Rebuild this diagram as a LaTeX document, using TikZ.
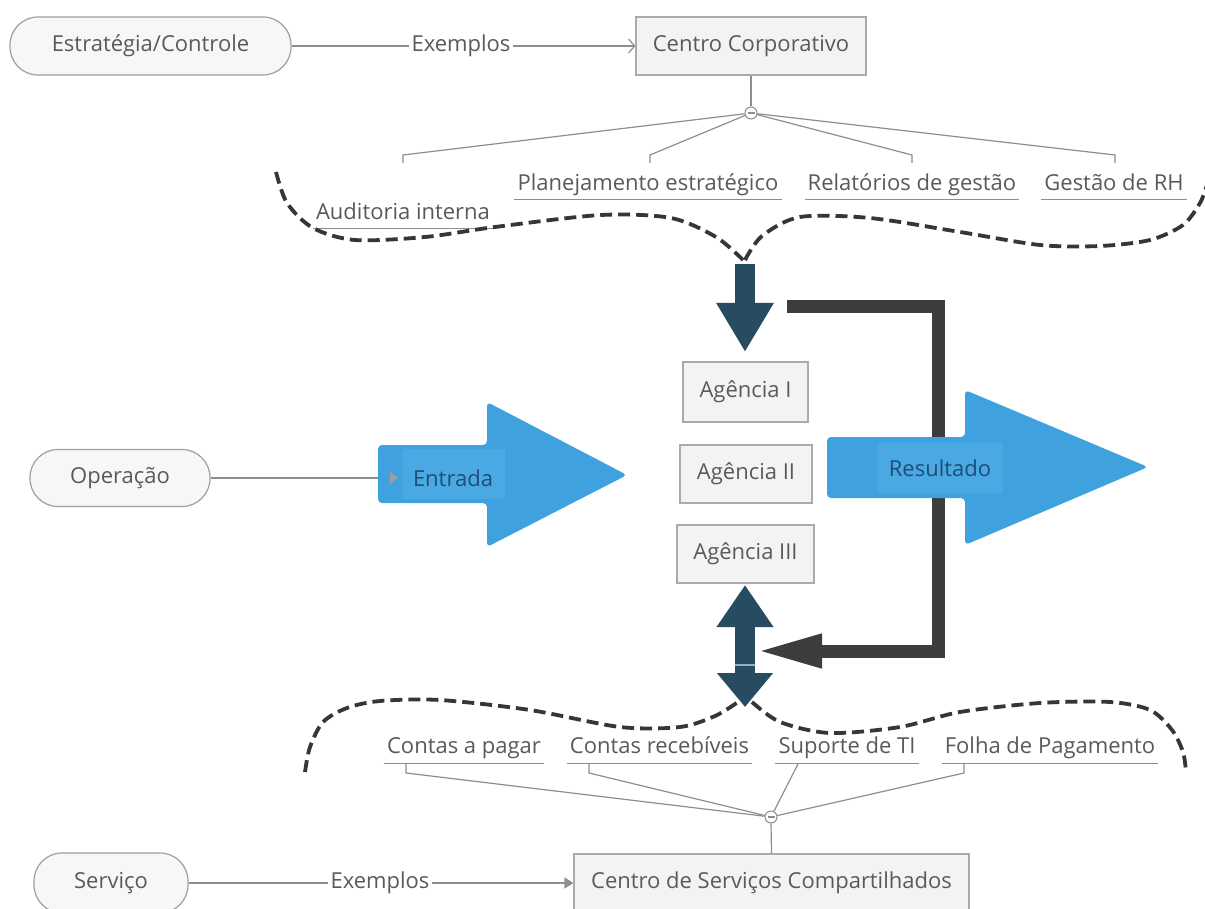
\documentclass[tikz,border=0pt]{standalone}
\usepackage{fontspec}
\setmainfont{Open Sans}
\usetikzlibrary{arrows.meta}
\definecolor{txt}{HTML}{5A5A5A}
\definecolor{ln}{HTML}{8E8E8E}
\definecolor{pillfill}{HTML}{F7F7F7}
\definecolor{pillline}{HTML}{9E9E9E}
\definecolor{boxfill}{HTML}{F3F3F3}
\definecolor{boxline}{HTML}{ABABAB}
\definecolor{bigblue}{HTML}{3FA2DE}
\definecolor{lblblue}{HTML}{4AA9E2}
\definecolor{lbltext}{HTML}{1E4E78}
\definecolor{darkblue}{HTML}{274C61}
\definecolor{darkgray}{HTML}{3D3D3D}
\definecolor{dashcol}{HTML}{363636}
\definecolor{seam}{HTML}{8FB0C2}
\begin{document}
\begin{tikzpicture}[x=1pt,y=-1pt,
  every node/.style={font=\fontsize{22}{26}\selectfont, text=txt},
  pill/.style={draw=pillline, fill=pillfill, line width=1.2pt, rounded corners=28pt, minimum height=58pt, inner sep=0pt},
  box/.style={draw=boxline, fill=boxfill, line width=1.2pt, minimum height=58pt, inner sep=0pt},
  lbl/.style={inner sep=0pt, anchor=base},
  exlbl/.style={inner sep=2pt},
  conn/.style={draw=ln, line width=1.2pt},
  uline/.style={draw=ln, line width=1pt},
  dashcurve/.style={draw=dashcol, line width=3.8pt, dash pattern=on 12pt off 6pt},
  knob/.style={circle, draw=ln, fill=white, minimum size=12pt, inner sep=0pt, line width=1pt},
  bluelbl/.style={text=lbltext, inner sep=0pt},
  fb/.style={draw=darkgray, line width=13pt, line join=miter, -{Triangle[length=66pt,width=31pt]}},
  fatarrow/.style={draw=darkblue, line width=20pt}
]
\fill[white] (0,0) rectangle (1205,909);
\useasboundingbox (0,0) rectangle (1205,909);

% ---------- top row
\node[pill, minimum width=281pt] (strat) at (150.5,46) {Estratégia/Controle};
\node[exlbl] (ex1) at (461,46) {Exemplos};
\node[box, minimum width=230pt] (corp) at (751,46) {Centro Corporativo};
\draw[conn] (strat.east) -- (ex1.west);
\draw[conn, -{Straight Barb[length=6pt,width=14pt]}] (ex1.east) -- (corp.west);

\node[knob] (c1) at (751,113) {};
\draw[conn] (corp.south) -- (c1.north);
\draw[ln, line width=1.5pt] ([xshift=-3.5pt]c1.center) -- ([xshift=3.5pt]c1.center);

\coordinate (s1) at (403,155); \coordinate (s1b) at (403,163);
\coordinate (s2) at (650,155); \coordinate (s2b) at (650,163);
\coordinate (s3) at (912,155); \coordinate (s3b) at (912,163);
\coordinate (s4) at (1115,155); \coordinate (s4b) at (1115,163);
\draw[conn] (c1) -- (s1) -- (s1b);
\draw[conn] (c1) -- (s2) -- (s2b);
\draw[conn] (c1) -- (s3) -- (s3b);
\draw[conn] (c1) -- (s4) -- (s4b);

\node[lbl] (aud) at (403,220) {Auditoria interna};
\node[lbl] (plan) at (648,191) {Planejamento estratégico};
\node[lbl] (rel) at (912,191) {Relatórios de gestão};
\node[lbl] (rh) at (1114,191) {Gestão de RH};
\foreach \n in {aud, plan, rel, rh}{
  \draw[uline] ([xshift=-3pt,yshift=-9pt]\n.base west) -- ([xshift=3pt,yshift=-9pt]\n.base east);
}

% top dashed boundary
\draw[dashcurve] plot[smooth] coordinates {(276,172) (287,203) (313,228) (355,240) (425,237) (495,227) (601,215) (671,218) (716,237) (743,260)};
\draw[dashcurve] plot[smooth] coordinates {(745,260) (762,236) (800,217) (870,218) (960,232) (1040,245) (1100,246) (1150,240) (1183,225) (1200,203) (1207,185)};

% ---------- feedback connector (drawn beneath the Resultado arrow)
\coordinate (fbstart) at (787,306.5);
\coordinate (fbcorner) at (938,651);
\coordinate (fbend) at (756,651);
\draw[fb] (fbstart) -| (fbcorner) -- (fbend);

% ---------- centre column
\coordinate (dtop) at (745,264);
\coordinate (dtip) at (745,352);
\draw[fatarrow, -{Triangle[length=49pt,width=54pt]}] (dtop) -- (dtip);

\node[box, minimum width=125pt, minimum height=60pt] (ag1) at (745.5,392) {Agência I};
\node[box, minimum width=132pt, minimum height=58pt] (ag2) at (746,474) {Agência II};
\node[box, minimum width=137pt, minimum height=58pt] (ag3) at (745.5,554) {Agência III};

\coordinate (utip) at (745,585);
\coordinate (btip) at (745,707);
\draw[fatarrow, {Triangle[length=42pt,width=54pt]}-{Triangle[length=34pt,width=54pt]}] (utip) -- (btip);
\draw[seam, line width=1.5pt] (735,665) -- (755,665);

% ---------- Entrada arrow
\fill[bigblue, rounded corners=4pt] (378,445) -- (487,445) -- (487,402) -- (627,475) -- (487,547) -- (487,503) -- (378,503) -- cycle;
\fill[lblblue] (403,449) rectangle (505,499);
\node[bluelbl] (ent) at (453,478) {Entrada};
\fill[gray!75] (390,472) -- (398,478) -- (390,484) -- cycle;

\node[pill, minimum width=180pt, minimum height=57pt] (op) at (120,478) {Operação};
\coordinate (entin) at (378,478);
\draw[conn] (op.east) -- (entin);

% ---------- Resultado arrow
\fill[bigblue, rounded corners=4pt] (827,437) -- (965,437) -- (965,390) -- (1148,467) -- (965,545) -- (965,498) -- (827,498) -- cycle;
\fill[lblblue] (878,443) rectangle (1003,493);
\node[bluelbl] (res) at (940,468) {Resultado};

% ---------- bottom dashed boundary
\draw[dashcurve] plot[smooth] coordinates {(305,772) (310,747) (323,722) (347,708) (380,701) (440,700) (530,710) (620,727) (680,727) (715,716) (738,702)};
\draw[dashcurve] plot[smooth] coordinates {(752,702) (780,722) (830,733) (900,727) (960,712) (1040,703) (1110,702) (1150,710) (1172,730) (1183,752) (1186,772)};

% ---------- bottom labels
\node[lbl] (cp) at (464,753) {Contas a pagar};
\node[lbl] (cr) at (659.5,753) {Contas recebíveis};
\node[lbl] (ti) at (847,753) {Suporte de TI};
\node[lbl] (fp) at (1050,753) {Folha de Pagamento};
\foreach \n in {cp, cr, ti, fp}{
  \draw[uline] ([xshift=-3pt,yshift=-10pt]\n.base west) -- ([xshift=3pt,yshift=-10pt]\n.base east);
}

\node[knob] (c2) at (771,817) {};
\draw[ln, line width=1.5pt] ([xshift=-3.5pt]c2.center) -- ([xshift=3.5pt]c2.center);
\coordinate (t1) at (406,763); \coordinate (t1b) at (406,773);
\coordinate (t2) at (589,763); \coordinate (t2b) at (589,773);
\coordinate (t3) at (798,764);
\coordinate (t4) at (964,763); \coordinate (t4b) at (964,773);
\draw[conn] (t1) -- (t1b) -- (c2);
\draw[conn] (t2) -- (t2b) -- (c2);
\draw[conn] (t3) -- (c2);
\draw[conn] (t4) -- (t4b) -- (c2);

% ---------- bottom row
\node[pill, minimum width=154pt, minimum height=60pt] (serv) at (111,883) {Serviço};
\node[exlbl] (ex2) at (380,883) {Exemplos};
\node[box, minimum width=395pt, minimum height=58pt] (csc) at (771.5,883) {Centro de Serviços Compartilhados};
\draw[conn] (serv.east) -- (ex2.west);
\draw[conn, -{Triangle[length=9pt,width=11pt]}] (ex2.east) -- (csc.west);
\draw[conn] (c2.south) -- (csc.north);
\end{tikzpicture}
\end{document}
